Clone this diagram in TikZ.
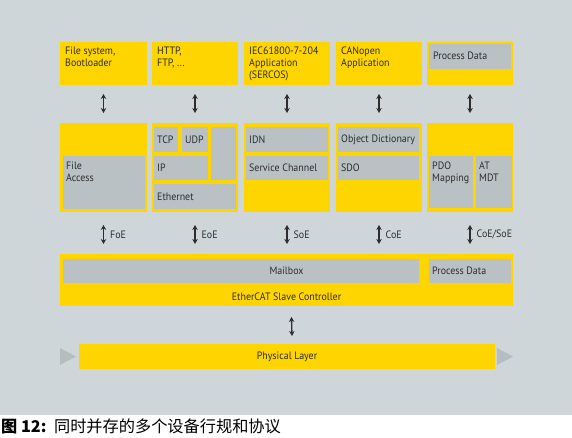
\documentclass[tikz,border=0pt]{standalone}
\usepackage{fontspec}
\setmainfont[FakeStretch=0.93]{PT Sans}
\newfontfamily\cjk{Noto Sans CJK SC}
\usetikzlibrary{arrows.meta}

\definecolor{panelgray}{RGB}{207,214,217}
\definecolor{ecyellow}{RGB}{255,213,0}
\definecolor{fieldgray}{RGB}{185,193,197}
\definecolor{trigray}{RGB}{180,189,193}
\definecolor{inkgray}{RGB}{45,45,45}

\begin{document}
\begin{tikzpicture}[x=1pt, y=-1pt,
block/.style={fill=ecyellow, anchor=north west, inner sep=0pt, outer sep=0pt},
field/.style={fill=fieldgray, anchor=north west, inner sep=0pt, outer sep=0pt},
txt/.style={text=inkgray, inner sep=0pt, align=left, font=\fontsize{10.7}{12}\selectfont},
proto/.style={txt, anchor=west, xshift=6pt},
link/.style={{Stealth[length=5pt,width=5.5pt]}-{Stealth[length=5pt,width=5.5pt]}, line width=1.3pt, draw=inkgray},
]
\useasboundingbox (0,0) rectangle (572,438);
\fill[panelgray] (0,0) rectangle (572,415);

% application row
\node[block, minimum width=87, minimum height=43] (app1) at (60,42) {};
\node[block, minimum width=86, minimum height=43] (app2) at (152,42) {};
\node[block, minimum width=86, minimum height=43] (app3) at (244,42) {};
\node[block, minimum width=86, minimum height=43] (app4) at (336,42) {};
\node[block, minimum width=86, minimum height=43] (app5) at (427,42) {};
\node[field, minimum width=82, minimum height=25] (pdapp) at (429,44) {};

\node[txt, anchor=north west] (app1txt) at ([shift={(5,5)}]app1.north west) {File system,\\Bootloader};
\node[txt, anchor=north west] (app2txt) at ([shift={(5,5)}]app2.north west) {HTTP,\\FTP, ...};
\node[txt, anchor=north west] (app3txt) at ([shift={(5,5)}]app3.north west) {IEC61800-7-204\\Application\\(SERCOS)};
\node[txt, anchor=north west] (app4txt) at ([shift={(5,5)}]app4.north west) {CANopen\\Application};
\node[txt, anchor=west] (pdapptxt) at ([shift={(4,-1)}]pdapp.west) {Process Data};

% service row
\node[block, minimum width=87, minimum height=89] (svc1) at (60,123) {};
\node[block, minimum width=86, minimum height=89] (svc2) at (152,123) {};
\node[block, minimum width=86, minimum height=89] (svc3) at (244,123) {};
\node[block, minimum width=86, minimum height=89] (svc4) at (336,123) {};
\node[block, minimum width=86, minimum height=89] (svc5) at (427,123) {};

\node[field, minimum width=82, minimum height=53] (fileacc) at (63,156) {};
\node[field, minimum width=24, minimum height=25] (tcp) at (154,127) {};
\node[field, minimum width=26, minimum height=25] (udp) at (182,127) {};
\node[field, minimum width=25, minimum height=53] (spare) at (211,127) {};
\node[field, minimum width=54, minimum height=24] (ip) at (154,156) {};
\node[field, minimum width=82, minimum height=25] (eth) at (154,184) {};
\node[field, minimum width=82, minimum height=25] (idn) at (246,127) {};
\node[field, minimum width=82, minimum height=24] (sch) at (246,156) {};
\node[field, minimum width=81, minimum height=25] (objdict) at (338,127) {};
\node[field, minimum width=81, minimum height=24] (sdo) at (338,156) {};
\node[field, minimum width=44, minimum height=52] (pdo) at (429,156) {};
\node[field, minimum width=36, minimum height=52] (atmdt) at (476,156) {};

\node[txt, anchor=north west] (fileacctxt) at ([shift={(3,6)}]fileacc.north west) {File\\Access};
\node[txt, anchor=west] (tcptxt) at ([shift={(3,0)}]tcp.west) {TCP};
\node[txt, anchor=west] (udptxt) at ([shift={(3,0)}]udp.west) {UDP};
\node[txt, anchor=west] (iptxt) at ([shift={(3,0)}]ip.west) {IP};
\node[txt, anchor=west] (ethtxt) at ([shift={(3,0)}]eth.west) {Ethernet};
\node[txt, anchor=west] (idntxt) at ([shift={(3,0)}]idn.west) {IDN};
\node[txt, anchor=west] (schtxt) at ([shift={(3,0)}]sch.west) {Service Channel};
\node[txt, anchor=west] (objdicttxt) at ([shift={(3,0)}]objdict.west) {Object Dictionary};
\node[txt, anchor=west] (sdotxt) at ([shift={(3,0)}]sdo.west) {SDO};
\node[txt, anchor=north west] (pdotxt) at ([shift={(3,6)}]pdo.north west) {PDO\\Mapping};
\node[txt, anchor=north west] (atmdttxt) at ([shift={(3,6)}]atmdt.north west) {AT\\MDT};

% slave controller
\node[block, minimum width=453, minimum height=52] (esc) at (60,254) {};
\node[field, minimum width=356, minimum height=24] (mailbox) at (63,259) {};
\node[field, minimum width=82, minimum height=24] (pdesc) at (429,259) {};
\node[txt] (mailboxtxt) at (esc.north |- mailbox.center) {Mailbox};
\node[txt, anchor=west] (pdesctxt) at ([shift={(3,0)}]pdesc.west) {Process Data};
\node[txt] (esctxt) at ([shift={(0,-9)}]esc.south) {EtherCAT Slave Controller};

% physical layer
\node[block, minimum width=416, minimum height=25] (phy) at (79,344) {};
\node[txt] (phytxt) at (phy.center) {Physical Layer};
\fill[trigray] (60,348) -- (76,356.5) -- (60,365) -- cycle;
\fill[trigray] (497,348) -- (513,356.5) -- (497,365) -- cycle;

% links
\foreach \i in {1,...,5}
  \draw[link] ([shift={(0,9)}]app\i.south) -- ([shift={(0,-10)}]svc\i.north);

\draw[link] ([shift={(0,13)}]svc1.south) -- ([shift={(0,32)}]svc1.south) node[proto, midway] (foe) {FoE};
\draw[link] ([shift={(0,13)}]svc2.south) -- ([shift={(0,32)}]svc2.south) node[proto, midway] (eoe) {EoE};
\draw[link] ([shift={(0,13)}]svc3.south) -- ([shift={(0,32)}]svc3.south) node[proto, midway] (soe) {SoE};
\draw[link] ([shift={(0,13)}]svc4.south) -- ([shift={(0,32)}]svc4.south) node[proto, midway] (coe) {CoE};
\draw[link] ([shift={(0,13)}]svc5.south) -- ([shift={(0,32)}]svc5.south) node[proto, midway] (coesoe) {CoE/SoE};

\draw[link] ([shift={(5,11)}]esc.south) -- ([shift={(5,-8)}]phy.north);

% caption
\node[anchor=base west, inner sep=0pt, font=\cjk\fontsize{16.2}{19}\selectfont] (caption) at (1,432) {\textbf{图 12:}\, 同时并存的多个设备行规和协议};
\end{tikzpicture}
\end{document}
